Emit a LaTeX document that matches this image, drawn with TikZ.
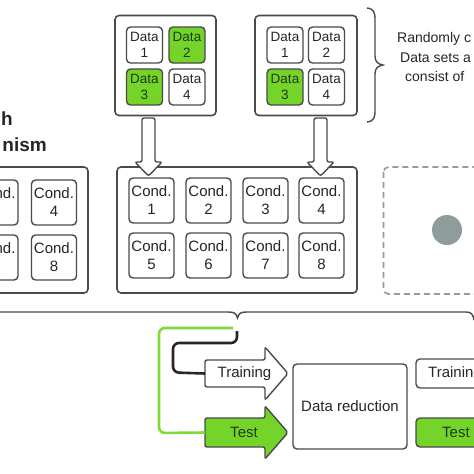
\documentclass[tikz,border=0pt]{standalone}
\usepackage{fontspec}
\setmainfont{Liberation Sans}
\definecolor{gline}{HTML}{4A4A4A}
\definecolor{gfill}{HTML}{74D42A}
\definecolor{gwire}{HTML}{7ED93A}
\definecolor{gtext}{HTML}{1E3A10}
\definecolor{dashc}{HTML}{9A9A9A}
\definecolor{dotc}{HTML}{8E9C9B}
\tikzset{
  outerbox/.style={draw=gline, line width=1.6pt, rounded corners=4pt, fill=white},
  databox/.style={draw=gline, line width=1.4pt, rounded corners=4pt, fill=white,
    minimum width=36pt, minimum height=36pt, inner sep=0pt, align=center,
    font=\fontsize{13.5}{16}\selectfont, text=black!85},
  greenbox/.style={databox, fill=gfill, text=gtext},
  condbox/.style={draw=gline, line width=1.4pt, rounded corners=4pt, fill=white,
    minimum width=45pt, minimum height=45pt, inner sep=0pt, align=center,
    font=\fontsize{15}{18}\selectfont, text=black!85},
  blockarrow/.style={draw=gline, line width=1.4pt, fill=white, rounded corners=2pt},
  flowbox/.style={draw=gline, line width=1.4pt, rounded corners=4pt, fill=white, inner sep=0pt},
  lbl/.style={font=\fontsize{15}{17}\selectfont, text=black!85, inner sep=0pt},
  sidetxt/.style={font=\fontsize{14}{16}\selectfont, text=black!85, inner sep=0pt, anchor=base west},
  bigtxt/.style={font=\bfseries\fontsize{19}{22}\selectfont, text=black!85, inner sep=0pt, anchor=base east},
  braceline/.style={draw=gline, line width=1.4pt},
  wire/.style={line width=2.6pt, rounded corners=6pt}
}
\begin{document}
\begin{tikzpicture}[x=1pt,y=-1pt]
\useasboundingbox (0,0) rectangle (474,474);
\clip (0,0) rectangle (474,474);
\fill[white] (0,0) rectangle (474,474);

% left clipped title
\node[bigtxt] (t1) at (13,125) {h};
\node[bigtxt] (t2) at (47,151) {nism};

% data groups
\node[outerbox, minimum width=101pt, minimum height=100pt] (dg1) at (165.5,65.5) {};
\node[databox] (d11) at (144.5,45) {Data\\1};
\node[greenbox] (d12) at (187,45) {Data\\2};
\node[greenbox] (d13) at (144.5,87) {Data\\3};
\node[databox] (d14) at (187,87) {Data\\4};

\node[outerbox, minimum width=102pt, minimum height=100pt] (dg2) at (306,65.5) {};
\node[databox] (d21) at (285,45) {Data\\1};
\node[databox] (d22) at (326.5,45) {Data\\2};
\node[greenbox] (d23) at (285,87) {Data\\3};
\node[databox] (d24) at (326.5,87) {Data\\4};

% right brace and text
\draw[braceline] (367,8) .. controls (374,9) and (375,12) .. (375,20)
  -- (375,56) .. controls (375,62) and (378,64) .. (383,65)
  .. controls (378,66) and (375,68) .. (375,74)
  -- (375,110) .. controls (375,118) and (374,121) .. (367,122);
\node[sidetxt] (r1) at (397,42) {Randomly c};
\node[sidetxt] (r2) at (400,62.5) {Data sets a};
\node[sidetxt] (r3) at (405,81.5) {consist of};

% left condition group (clipped)
\node[outerbox, minimum width=140pt, minimum height=126pt] (cg0) at (18,230) {};
\node[condbox] (c03) at (-4.5,202.5) {Cond.\\3};
\node[condbox] (c04) at (54,202.5) {Cond.\\4};
\node[condbox] (c07) at (-4.5,257.5) {Cond.\\7};
\node[condbox] (c08) at (54,257.5) {Cond.\\8};

% main condition group
\node[outerbox, minimum width=240pt, minimum height=126pt] (cg) at (237,230) {};
\node[condbox] (c1) at (151.5,200.5) {Cond.\\1};
\node[condbox] (c2) at (208.5,200.5) {Cond.\\2};
\node[condbox] (c3) at (265.5,200.5) {Cond.\\3};
\node[condbox] (c4) at (321.5,200.5) {Cond.\\4};
\node[condbox] (c5) at (151.5,255.5) {Cond.\\5};
\node[condbox] (c6) at (208.5,255.5) {Cond.\\6};
\node[condbox] (c7) at (265.5,255.5) {Cond.\\7};
\node[condbox] (c8) at (321.5,255.5) {Cond.\\8};

% down arrows
\draw[blockarrow] (142,118) -- (142,162) -- (135,162) -- (148.5,176) -- (162,162) -- (155,162) -- (155,118) -- cycle;
\draw[blockarrow] (314,118) -- (314,162) -- (307,162) -- (320.5,176) -- (334,162) -- (327,162) -- (327,118) -- cycle;

% dashed box with dot
\draw[draw=dashc, line width=1.6pt, dash pattern=on 6pt off 4pt, rounded corners=5pt] (383.5,167) rectangle (500,294);
\node[circle, fill=dotc, minimum size=30pt, inner sep=0pt] (dot) at (447,230) {};

% bottom brace
\draw[braceline] (-10,312) -- (228,312) .. controls (234,312) and (236,313) .. (237.5,318)
  .. controls (239,313) and (241,312) .. (247,312) -- (466,312)
  .. controls (471,312) and (473,314) .. (474,320);

% training / test arrows
\draw[blockarrow, fill=white] (205,360) -- (265,360) -- (265,347) -- (288,373.5) -- (265,400) -- (265,387) -- (205,387) -- cycle;
\draw[blockarrow, fill=gfill] (205,418) -- (265,418) -- (265,406) -- (288,432.5) -- (265,459) -- (265,447) -- (205,447) -- cycle;
\coordinate (trin) at (205,373.5);
\coordinate (tein) at (205,432.5);
\node[lbl] (trtxt) at (244.5,373.5) {Training};
\node[lbl, text=gtext] (tetxt) at (244,432.5) {Test};

% wires
\coordinate (gstart) at (233,328);
\coordinate (bstart) at (237,331);
\draw[wire, draw=gwire] (gstart) -- (159,328) -- (159,433) -- (tein);
\draw[wire, draw=black!85] (bstart) -- (237,343) -- (173,343) -- (173,372.5) -- (trin);

% data reduction
\node[flowbox, minimum width=114pt, minimum height=85pt, lbl] (dr) at (350,406.5) {Data reduction};

% right clipped boxes
\node[flowbox, minimum width=80pt, minimum height=29pt] (rtr) at (456,373.5) {};
\node[lbl, anchor=west] (rtrt) at (428,373.5) {Training};
\node[flowbox, fill=gfill, minimum width=80pt, minimum height=29pt] (rte) at (456,432.5) {};
\node[lbl, anchor=west, text=gtext] (rtet) at (442,432.5) {Test};
\end{tikzpicture}
\end{document}
